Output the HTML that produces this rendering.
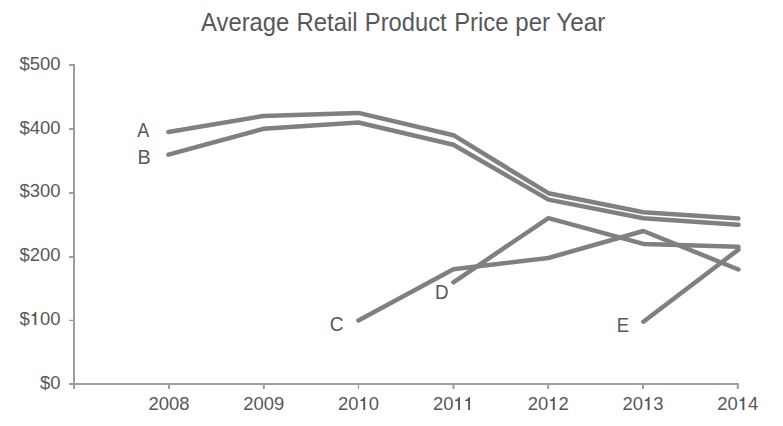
<!DOCTYPE html>
<html>
<head>
<meta charset="utf-8">
<title>Average Retail Product Price per Year</title>
<style>
html,body{margin:0;padding:0;background:#fff;}
body{width:783px;height:426px;overflow:hidden;position:relative;font-family:"Liberation Sans",sans-serif;}
svg{position:absolute;left:0;top:0;}
text{font-family:"Liberation Sans",sans-serif;fill:#58585a;}
.x path,.y path{fill:#58585a;stroke:none;}
.t{font-size:25.5px;}
.y{font-size:18.7px;}
.x{font-size:18.7px;}
.l{font-size:20px;}
.ax{stroke:#9d9d9f;stroke-width:2;fill:none;}
.s{stroke:#808080;stroke-width:4.5;fill:none;stroke-linecap:round;stroke-linejoin:round;}
</style>
</head>
<body>
<svg width="783" height="426" viewBox="0 0 783 426">
<g class="t">
<text x="201.1" y="30.7" textLength="88.2" lengthAdjust="spacingAndGlyphs">Average</text>
<text x="296.5" y="30.7" textLength="61.1" lengthAdjust="spacingAndGlyphs">Retail</text>
<text x="364.8" y="30.7" textLength="81.9" lengthAdjust="spacingAndGlyphs">Product</text>
<text x="454.2" y="30.7" textLength="54.4" lengthAdjust="spacingAndGlyphs">Price</text>
<text x="515.3" y="30.7" textLength="34.7" lengthAdjust="spacingAndGlyphs">per</text>
<text x="556.2" y="30.7" textLength="49.1" lengthAdjust="spacingAndGlyphs">Year</text>
</g>
<g class="ax">
<path d="M74 64V389"/>
<path d="M69 384H738.8"/>
<path d="M69 65H74M69 128.9H74M69 193H74M69 257H74"/>
<path d="M69 320.4H74" stroke-width="1.2"/>
<path d="M169.0 384V389M263.8 384V389M453.4 384V389M548.2 384V389M643.0 384V389M737.8 384V389"/>
<path stroke-width="1.2" d="M358.5 384V389"/>
</g>
<g class="y">
<g transform="translate(19.50 70.00) scale(0.9856 1)"><text x="0.00" y="0">$500</text></g>
<g transform="translate(19.50 134.00) scale(0.9856 1)"><text x="0.00" y="0">$400</text></g>
<g transform="translate(19.50 196.90) scale(0.9856 1)"><text x="0.00" y="0">$300</text></g>
<g transform="translate(19.50 260.90) scale(0.9856 1)"><text x="0.00" y="0">$200</text></g>
<g transform="translate(19.50 324.90) scale(0.9856 1)"><text x="0.00" y="0">$</text><path transform="translate(10.40 0)" d="M6.65 0V-13H5.35C5.1 -11.6 3.7 -10.4 1.8 -10.25V-9H4.71V0Z"/><text x="20.80" y="0">00</text></g>
<g transform="translate(40.00 389.00) scale(0.9856 1)"><text x="0.00" y="0">$0</text></g>
</g>
<g class="x">
<g transform="translate(148.50 410.00) scale(0.9856 1)"><text x="0.00" y="0">2008</text></g>
<g transform="translate(243.30 410.00) scale(0.9856 1)"><text x="0.00" y="0">2009</text></g>
<g transform="translate(338.10 410.00) scale(0.9856 1)"><text x="0.00" y="0">20</text><path transform="translate(20.80 0)" d="M6.65 0V-13H5.35C5.1 -11.6 3.7 -10.4 1.8 -10.25V-9H4.71V0Z"/><text x="31.20" y="0">0</text></g>
<g transform="translate(432.90 410.00) scale(0.9856 1)"><text x="0.00" y="0">20</text><path transform="translate(20.80 0)" d="M6.65 0V-13H5.35C5.1 -11.6 3.7 -10.4 1.8 -10.25V-9H4.71V0Z"/><path transform="translate(31.05 0)" d="M6.65 0V-13H5.35C5.1 -11.6 3.7 -10.4 1.8 -10.25V-9H4.71V0Z"/></g>
<g transform="translate(527.70 410.00) scale(0.9856 1)"><text x="0.00" y="0">20</text><path transform="translate(20.80 0)" d="M6.65 0V-13H5.35C5.1 -11.6 3.7 -10.4 1.8 -10.25V-9H4.71V0Z"/><text x="31.20" y="0">2</text></g>
<g transform="translate(622.50 410.00) scale(0.9856 1)"><text x="0.00" y="0">20</text><path transform="translate(20.80 0)" d="M6.65 0V-13H5.35C5.1 -11.6 3.7 -10.4 1.8 -10.25V-9H4.71V0Z"/><text x="31.20" y="0">3</text></g>
<g transform="translate(717.30 410.00) scale(0.9856 1)"><text x="0.00" y="0">20</text><path transform="translate(20.80 0)" d="M6.65 0V-13H5.35C5.1 -11.6 3.7 -10.4 1.8 -10.25V-9H4.71V0Z"/><text x="31.20" y="0">4</text></g>
</g>
<g class="s">
<path d="M168.4 132.0L263.4 116.0L358.4 112.9L453.4 135.2L548.4 193.2L643.4 212.2L738.4 218.5"/>
<path d="M168.4 154.6L263.4 128.8L358.4 122.5L453.4 144.7L548.4 199.6L643.4 218.3L738.4 224.8"/>
<path d="M358.4 320.4L453.4 269.3L548.4 258.0L643.4 231.0L738.4 269.5"/>
<path d="M453.4 282.3L548.4 218.1L643.4 243.9L738.4 246.8"/>
<path d="M643.4 321.7L738.4 249.6"/>
</g>
<g class="l">
<text transform="translate(137.3 137.4) scale(0.9 1)">A</text>
<text transform="translate(137.6 163.9) scale(0.99 1)">B</text>
<text transform="translate(329.7 330.5) scale(0.955 1)">C</text>
<text transform="translate(434.9 299.2) scale(0.94 1)">D</text>
<text transform="translate(616.7 331.8) scale(0.925 1)">E</text>
</g>
</svg>
</body>
</html>
